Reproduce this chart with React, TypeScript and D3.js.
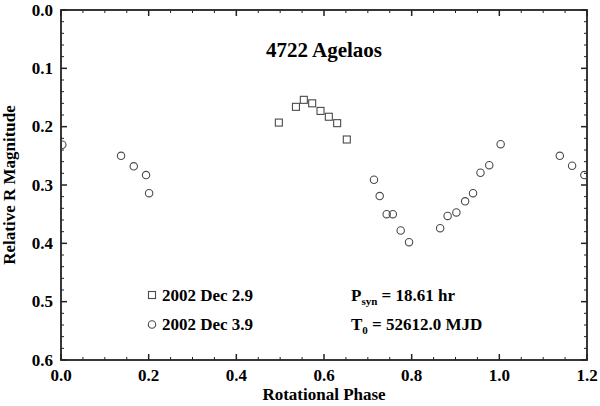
import React from "react";
import * as d3 from "d3";

// night of 2002 Dec 2.9 (squares)
const dec2Phase = [0.497, 0.536, 0.554, 0.573, 0.592, 0.611, 0.63, 0.652];
const dec2Mag = [0.193, 0.166, 0.154, 0.16, 0.173, 0.183, 0.194, 0.222];

// night of 2002 Dec 3.9 (circles)
const dec3Phase = [
  0.003, 0.137, 0.166, 0.194, 0.201, 0.714, 0.727, 0.743, 0.757, 0.775, 0.794,
  0.865, 0.882, 0.902, 0.922, 0.94, 0.957, 0.977, 1.003, 1.138, 1.166, 1.194,
];
const dec3Mag = [
  0.231, 0.25, 0.268, 0.283, 0.314, 0.291, 0.319, 0.35, 0.35, 0.378, 0.398,
  0.374, 0.353, 0.347, 0.328, 0.314, 0.279, 0.266, 0.23, 0.25, 0.267, 0.283,
];

const xTicks = [0, 0.2, 0.4, 0.6, 0.8, 1.0, 1.2];
const yTicks = [0, 0.1, 0.2, 0.3, 0.4, 0.5, 0.6];

const width = 600;
const height = 406;
const margin = { top: 10, right: 13, bottom: 46, left: 61 };
const font = "'Liberation Serif', 'Times New Roman', serif";

const App = () => {
  const x = d3
    .scaleLinear()
    .domain([0, 1.2])
    .range([margin.left, width - margin.right]);
  const y = d3
    .scaleLinear()
    .domain([0, 0.6])
    .range([margin.top, height - margin.bottom]);

  const x0 = margin.left;
  const x1 = width - margin.right;
  const y0 = margin.top;
  const y1 = height - margin.bottom;

  const xMinor = d3.range(0, 1.2001, 0.05);
  const yMinor = d3.range(0, 0.6001, 0.02);
  const isMajor = (v, step) => Math.abs(v / step - Math.round(v / step)) < 1e-6;

  const tickColor = "#222";
  const markColor = "#4a4a4a";

  return (
    <svg
      width={width}
      height={height}
      style={{ position: "absolute", left: 0, top: 0, background: "#fff" }}
      fontFamily={font}
      fontWeight="bold"
    >
      <defs>
        <clipPath id="plotClip">
          <rect x={x0} y={y0} width={x1 - x0} height={y1 - y0} />
        </clipPath>
      </defs>

      {/* ticks, inside on all four sides */}
      {xMinor.map((v, i) => {
        const len = isMajor(v, 0.2) ? 6 : 3;
        const w = isMajor(v, 0.2) ? 1.5 : 1;
        return (
          <g key={"xt" + i} stroke={tickColor} strokeWidth={w}>
            <line x1={x(v)} x2={x(v)} y1={y1} y2={y1 - len} />
            <line x1={x(v)} x2={x(v)} y1={y0} y2={y0 + len} />
          </g>
        );
      })}
      {yMinor.map((v, i) => {
        const len = isMajor(v, 0.1) ? 6 : 3;
        const w = isMajor(v, 0.1) ? 1.5 : 1;
        return (
          <g key={"yt" + i} stroke={tickColor} strokeWidth={w}>
            <line x1={x0} x2={x0 + len} y1={y(v)} y2={y(v)} />
            <line x1={x1} x2={x1 - len} y1={y(v)} y2={y(v)} />
          </g>
        );
      })}

      <rect
        x={x0}
        y={y0}
        width={x1 - x0}
        height={y1 - y0}
        fill="none"
        stroke={tickColor}
        strokeWidth={1.8}
      />

      {/* tick labels */}
      {xTicks.map((v) => (
        <text key={"xl" + v} x={x(v)} y={y1 + 21} textAnchor="middle" fontSize={17}>
          {v.toFixed(1)}
        </text>
      ))}
      {yTicks.map((v) => (
        <text
          key={"yl" + v}
          x={x0 - 8}
          y={y(v)}
          dy="0.34em"
          textAnchor="end"
          fontSize={17}
        >
          {v.toFixed(1)}
        </text>
      ))}

      {/* axis titles */}
      <text x={(x0 + x1) / 2} y={400} textAnchor="middle" fontSize={17}>
        Rotational Phase
      </text>
      <text
        transform={`translate(15,${(y0 + y1) / 2}) rotate(-90)`}
        textAnchor="middle"
        fontSize={17}
      >
        Relative R Magnitude
      </text>

      {/* title */}
      <text x={(x0 + x1) / 2} y={57} textAnchor="middle" fontSize={21}>
        4722 Agelaos
      </text>

      {/* data */}
      <g clipPath="url(#plotClip)" fill="none" stroke={markColor} strokeWidth={1.1}>
        {dec2Phase.map((p, i) => (
          <rect key={"s" + i} x={x(p) - 3.5} y={y(dec2Mag[i]) - 3.5} width={7} height={7} />
        ))}
        {dec3Phase.map((p, i) => (
          <circle key={"c" + i} cx={x(p)} cy={y(dec3Mag[i])} r={3.7} />
        ))}
      </g>

      {/* legend */}
      <rect x={148.5} y={291.5} width={7} height={7} fill="none" stroke={markColor} strokeWidth={1.1} />
      <text x={162} y={301} fontSize={17}>
        2002 Dec 2.9
      </text>
      <circle cx={152} cy={324.5} r={3.7} fill="none" stroke={markColor} strokeWidth={1.1} />
      <text x={162} y={330} fontSize={17}>
        2002 Dec 3.9
      </text>

      <text x={351} y={301} fontSize={17}>
        P<tspan fontSize={11} dy={4}>syn</tspan>
        <tspan dy={-4}> = 18.61 hr</tspan>
      </text>
      <text x={351} y={330} fontSize={17}>
        T<tspan fontSize={11} dy={4}>0</tspan>
        <tspan dy={-4}> = 52612.0 MJD</tspan>
      </text>
    </svg>
  );
};

export default App;
